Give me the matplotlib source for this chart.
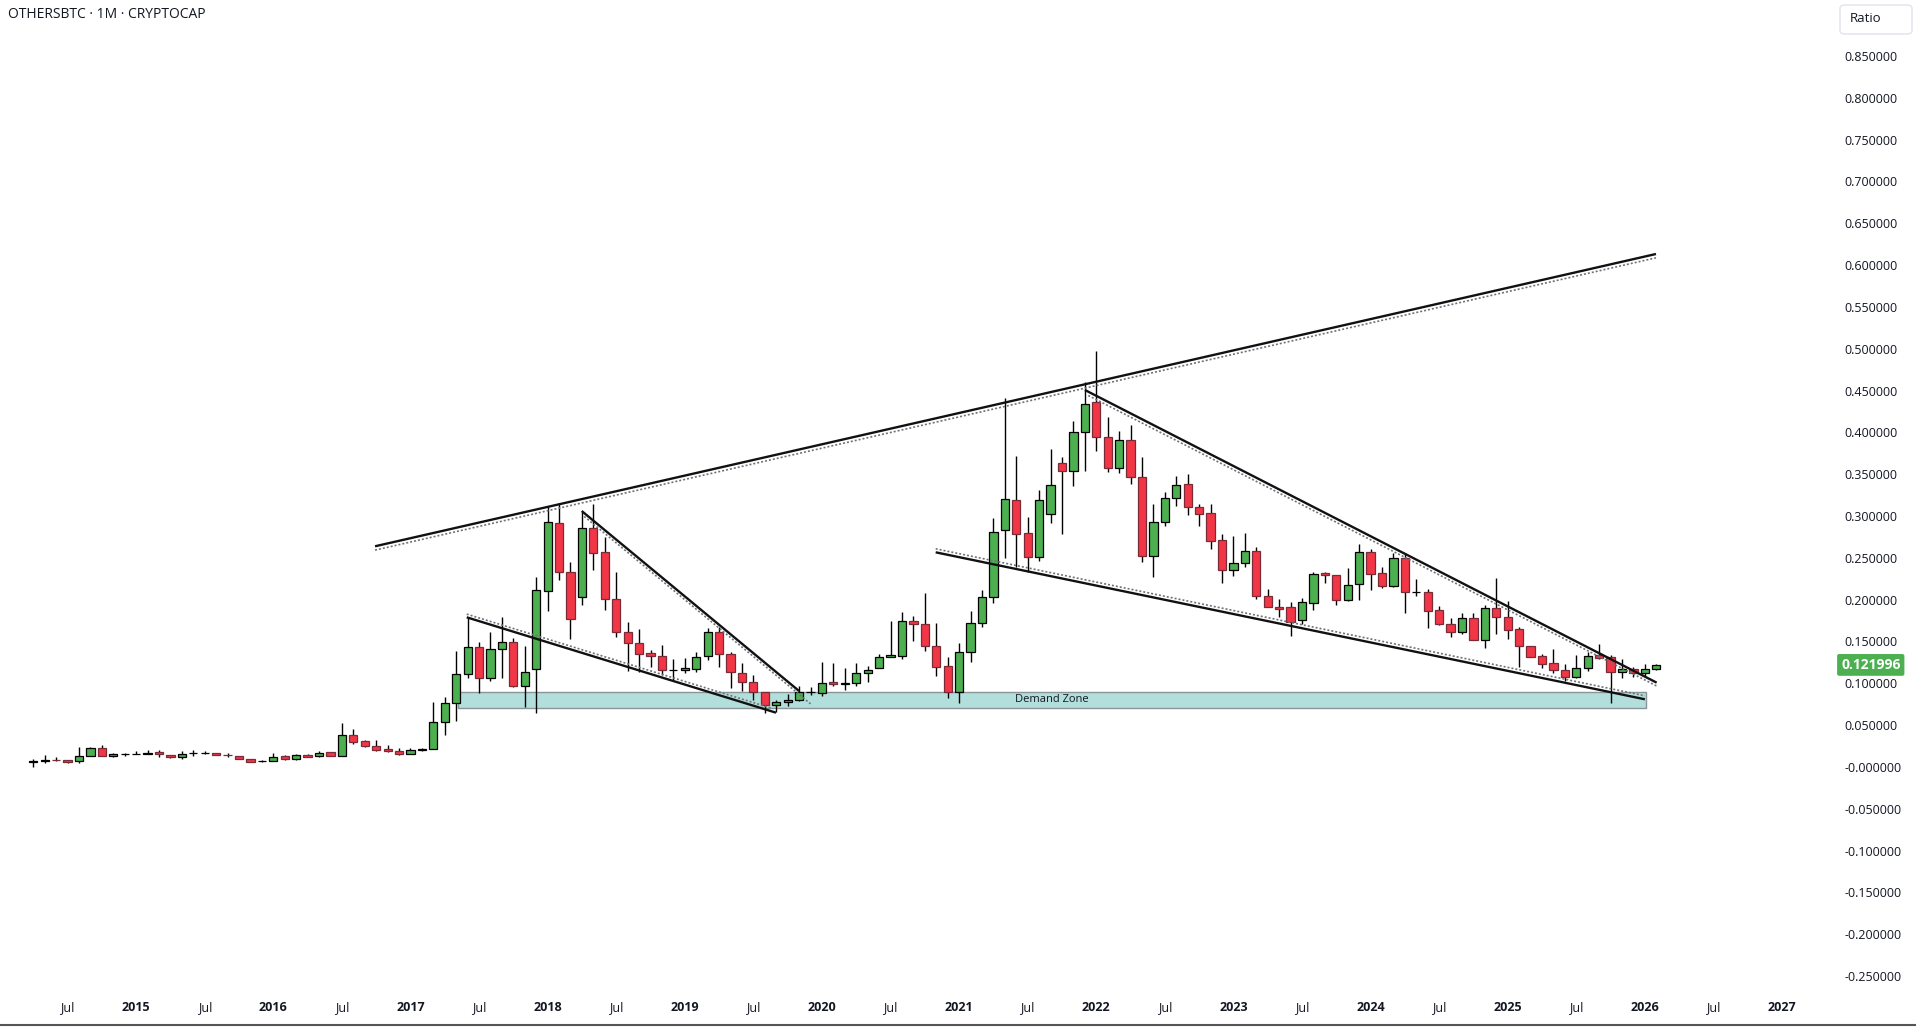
##############################################
## OTHERSBTC monthly candles, TradingView style
##############################################

import numpy as np
import matplotlib
matplotlib.use('Agg')
from matplotlib import pyplot as plt
from matplotlib import patches, transforms

plt.rcParams['font.family'] = ['Open Sans', 'DejaVu Sans']

# first candle is April 2014, one candle per month
start_year = 2014
start_month = 4

opens = [0.0064, 0.0076, 0.0084, 0.0084, 0.0068, 0.0128, 0.0223, 0.0131, 0.0155, 0.0155,
         0.0159, 0.0175, 0.0139, 0.0115, 0.0163, 0.0167, 0.0167, 0.0143, 0.0127, 0.0092,
         0.0070, 0.0068, 0.0131, 0.0092, 0.0143, 0.0127, 0.0175, 0.0135, 0.0378, 0.0315,
         0.0251, 0.0219, 0.0195, 0.0159, 0.0203, 0.0211, 0.0534, 0.0761, 0.1108, 0.1438,
         0.1060, 0.1407, 0.1498, 0.0968, 0.1167, 0.2100, 0.2913, 0.2327, 0.2028, 0.2853,
         0.2566, 0.2004, 0.1610, 0.1478, 0.1359, 0.1323, 0.1159, 0.1159, 0.1167, 0.1323,
         0.1610, 0.1347, 0.1120, 0.1012, 0.0893, 0.0741, 0.0773, 0.0800, 0.0895, 0.0889,
         0.1012, 0.0988, 0.1004, 0.1120, 0.1179, 0.1311, 0.1330, 0.1741, 0.1705, 0.1450,
         0.1207, 0.0900, 0.1375, 0.1717, 0.2028, 0.2829, 0.3188, 0.2793, 0.2506, 0.3024,
         0.3630, 0.3534, 0.4000, 0.4367, 0.3941, 0.3574, 0.3905, 0.3466, 0.2526, 0.2932,
         0.3211, 0.3379, 0.3108, 0.3032, 0.2709, 0.2358, 0.2434, 0.2577, 0.2040, 0.1913,
         0.1908, 0.1756, 0.1964, 0.2315, 0.2295, 0.1996, 0.2184, 0.2566, 0.2315, 0.2168,
         0.2494, 0.2088, 0.2088, 0.1877, 0.1713, 0.1618, 0.1777, 0.1514, 0.1897, 0.1797,
         0.1646, 0.1443, 0.1327, 0.1244, 0.1164, 0.1077, 0.1188, 0.1335, 0.1311, 0.1136,
         0.1176, 0.1124, 0.1172]

highs = [0.0092, 0.0143, 0.0116, 0.0084, 0.0235, 0.0235, 0.0263, 0.0167, 0.0167, 0.0195,
         0.0203, 0.0203, 0.0147, 0.0191, 0.0199, 0.0195, 0.0167, 0.0163, 0.0127, 0.0092,
         0.0084, 0.0167, 0.0143, 0.0155, 0.0155, 0.0195, 0.0183, 0.0530, 0.0454, 0.0323,
         0.0323, 0.0259, 0.0223, 0.0223, 0.0223, 0.0777, 0.0840, 0.1390, 0.1797, 0.1498,
         0.1610, 0.1790, 0.1540, 0.1446, 0.2267, 0.3124, 0.3160, 0.2454, 0.3052, 0.3140,
         0.2745, 0.2327, 0.1729, 0.1650, 0.1400, 0.1460, 0.1287, 0.1300, 0.1380, 0.1660,
         0.1677, 0.1380, 0.1240, 0.1100, 0.0900, 0.0800, 0.0873, 0.0968, 0.0950, 0.1251,
         0.1240, 0.1180, 0.1240, 0.1210, 0.1350, 0.1745, 0.1857, 0.1800, 0.2076, 0.1717,
         0.1310, 0.1478, 0.1860, 0.2116, 0.2972, 0.4407, 0.3717, 0.2992, 0.3310, 0.3800,
         0.3701, 0.4136, 0.4598, 0.4973, 0.4188, 0.4021, 0.4088, 0.3710, 0.3144, 0.3290,
         0.3478, 0.3500, 0.3140, 0.3140, 0.2780, 0.2761, 0.2800, 0.2625, 0.2124, 0.2005,
         0.1977, 0.2015, 0.2335, 0.2335, 0.2295, 0.2375, 0.2665, 0.2602, 0.2395, 0.2554,
         0.2554, 0.2244, 0.2124, 0.1924, 0.1777, 0.1837, 0.1837, 0.1937, 0.2255, 0.1984,
         0.1670, 0.1443, 0.1350, 0.1406, 0.1227, 0.1335, 0.1375, 0.1469, 0.1335, 0.1287,
         0.1196, 0.1228, 0.1228]

lows = [0.0004, 0.0044, 0.0068, 0.0052, 0.0044, 0.0128, 0.0135, 0.0123, 0.0127, 0.0151,
        0.0155, 0.0123, 0.0107, 0.0099, 0.0135, 0.0151, 0.0139, 0.0123, 0.0092, 0.0056,
        0.0064, 0.0068, 0.0084, 0.0084, 0.0115, 0.0123, 0.0131, 0.0135, 0.0271, 0.0243,
        0.0195, 0.0179, 0.0147, 0.0155, 0.0191, 0.0211, 0.0379, 0.0546, 0.1068, 0.0880,
        0.1028, 0.1068, 0.0952, 0.0721, 0.0649, 0.1869, 0.2235, 0.1534, 0.1936, 0.2355,
        0.1877, 0.1558, 0.1151, 0.1132, 0.1199, 0.1100, 0.1040, 0.1120, 0.1140, 0.1275,
        0.1200, 0.0940, 0.0913, 0.0801, 0.0642, 0.0660, 0.0730, 0.0785, 0.0865, 0.0850,
        0.0970, 0.0925, 0.0964, 0.1010, 0.1179, 0.1311, 0.1291, 0.1510, 0.1387, 0.1090,
        0.0830, 0.0761, 0.1255, 0.1670, 0.1956, 0.2502, 0.2394, 0.2335, 0.2466, 0.2921,
        0.2781, 0.3363, 0.3543, 0.3777, 0.3530, 0.3510, 0.3383, 0.2455, 0.2273, 0.2885,
        0.3124, 0.3016, 0.2880, 0.2605, 0.2203, 0.2287, 0.2386, 0.2008, 0.1909, 0.1797,
        0.1570, 0.1709, 0.1876, 0.2203, 0.1936, 0.1984, 0.1996, 0.2116, 0.2136, 0.2156,
        0.1845, 0.2044, 0.1665, 0.1693, 0.1550, 0.1585, 0.1514, 0.1426, 0.1586, 0.1526,
        0.1199, 0.1311, 0.1180, 0.1125, 0.1029, 0.1065, 0.1148, 0.1295, 0.0761, 0.1069,
        0.1077, 0.1077, 0.1164]

closes = [0.0072, 0.0084, 0.0080, 0.0056, 0.0128, 0.0223, 0.0135, 0.0155, 0.0157, 0.0159,
          0.0167, 0.0155, 0.0115, 0.0159, 0.0167, 0.0169, 0.0139, 0.0141, 0.0092, 0.0056,
          0.0074, 0.0115, 0.0092, 0.0143, 0.0119, 0.0167, 0.0135, 0.0382, 0.0303, 0.0247,
          0.0207, 0.0187, 0.0159, 0.0203, 0.0215, 0.0534, 0.0761, 0.1108, 0.1438, 0.1060,
          0.1407, 0.1498, 0.0968, 0.1140, 0.2112, 0.2925, 0.2327, 0.1773, 0.2853, 0.2562,
          0.2004, 0.1610, 0.1478, 0.1347, 0.1323, 0.1159, 0.1165, 0.1179, 0.1311, 0.1610,
          0.1347, 0.1132, 0.1012, 0.0893, 0.0741, 0.0773, 0.0797, 0.0900, 0.0902, 0.1008,
          0.0996, 0.1004, 0.1120, 0.1159, 0.1311, 0.1339, 0.1741, 0.1705, 0.1450, 0.1199,
          0.0893, 0.1375, 0.1717, 0.2028, 0.2813, 0.3200, 0.2781, 0.2506, 0.3188, 0.3367,
          0.3534, 0.4000, 0.4335, 0.3941, 0.3570, 0.3905, 0.3462, 0.2526, 0.2925, 0.3211,
          0.3367, 0.3112, 0.3028, 0.2705, 0.2358, 0.2434, 0.2577, 0.2040, 0.1909, 0.1885,
          0.1737, 0.1975, 0.2307, 0.2291, 0.1996, 0.2172, 0.2566, 0.2303, 0.2168, 0.2494,
          0.2088, 0.2092, 0.1869, 0.1713, 0.1618, 0.1777, 0.1514, 0.1897, 0.1797, 0.1634,
          0.1443, 0.1319, 0.1236, 0.1164, 0.1077, 0.1188, 0.1327, 0.1303, 0.1136, 0.1176,
          0.1128, 0.1176, 0.121996]

# drawn trendlines (months from first candle, price)
trend_x = [[29.9, 141.97], [37.92, 64.98], [47.98, 67.0], [78.95, 141.0], [92.01, 142.03]]
trend_y = [[0.2638, 0.6132], [0.1789, 0.0649], [0.306, 0.0908], [0.2566, 0.0809], [0.4506, 0.1008]]
dot_x = [[29.9, 141.97], [37.92, 64.6], [48.2, 68.0], [78.95, 141.0], [92.3, 142.03]]
dot_y = [[0.2592, 0.6086], [0.1827, 0.0702], [0.2995, 0.0755], [0.2608, 0.0851], [0.4440, 0.0968]]

# demand zone
zone_x = [37.2, 141.07]
zone_y = [0.0702, 0.0900]
zone_label = 'Demand Zone'

last_price = 0.121996
price_ticks = np.round(np.arange(-0.25, 0.8501, 0.05), 2)

UP = '#4caf50'
DOWN = '#f23645'
TXT = '#131722'

W, H = 1916, 1027
fig = plt.figure(figsize=(W / 100, H / 100), dpi=100)
fig.patch.set_facecolor('white')
ax = fig.add_axes([0, 1 - 990 / H, 1836 / W, 990 / H])
ax.set_facecolor('white')

x = np.arange(len(opens))
o = np.array(opens)
c = np.array(closes)
up = c >= o

# wicks
ax.vlines(x, lows, highs, color='black', linewidth=1.0, zorder=3)
# bodies
ax.bar(x[up], (c - o)[up], bottom=o[up], width=0.72, color=UP,
       edgecolor='black', linewidth=0.9, zorder=4)
ax.bar(x[~up], (o - c)[~up], bottom=c[~up], width=0.72, color=DOWN,
       edgecolor='#7a2b38', linewidth=0.9, zorder=4)

# demand zone box
zone = patches.Rectangle((zone_x[0], zone_y[0]), zone_x[1] - zone_x[0], zone_y[1] - zone_y[0],
                         facecolor='#b2dfdb', edgecolor='#8a9596', linewidth=1.0, zorder=2)
ax.add_patch(zone)
ax.text((zone_x[0] + zone_x[1]) / 2, (zone_y[0] + zone_y[1]) / 2, zone_label,
        ha='center', va='center', fontsize=8, color=TXT, zorder=6)

# trendlines with their dotted shadows
for i in range(len(trend_x)):
    ax.plot(dot_x[i], dot_y[i], color='#6f727c', linewidth=1.2, linestyle=(0, (1.2, 1.2)), zorder=5)
    ax.plot(trend_x[i], trend_y[i], color='#111111', linewidth=1.7, zorder=5, solid_capstyle='butt')

xmin, xmax = -2.913, 157.72
ax.set_xlim(xmin, xmax)
ax.set_ylim(-0.2666, 0.9168)

# time axis: Jul and January (bold year) every six months
xt, xl = [], []
for k in range(0, int(xmax) - 2):
    m = (start_month - 1 + k) % 12
    yr = start_year + (start_month - 1 + k) // 12
    if m == 0:
        xt.append(k)
        xl.append(str(yr))
    elif m == 6:
        xt.append(k)
        xl.append('Jul')
ax.set_xticks(xt)
ax.set_xticklabels(xl)
for t in ax.get_xticklabels():
    t.set_fontsize(9)
    t.set_color(TXT)
    if t.get_text() != 'Jul':
        t.set_fontweight('bold')
ax.tick_params(axis='x', length=0, pad=8)

# price scale
ax.yaxis.tick_right()
ax.set_yticks(price_ticks)
ylabels = []
for v in price_ticks:
    s = '%.6f' % v
    if v == 0:
        s = '-0.000000'
    ylabels.append(s)
ax.set_yticklabels(ylabels, fontsize=9, color=TXT)
ax.tick_params(axis='y', length=0, pad=6)

for s in ax.spines.values():
    s.set_visible(False)

# last price tag
trans = transforms.blended_transform_factory(ax.transAxes, ax.transData)
ax.text(1.0 + 5 / 1836, last_price, '%.6f' % last_price, transform=trans, ha='left', va='center',
        fontsize=10, fontweight='bold', color='white', clip_on=False, zorder=10,
        bbox=dict(boxstyle='round,pad=0.28,rounding_size=0.15', fc=UP, ec='none'))

# title and Ratio button
fig.text(8 / W, 1 - 15 / H, 'OTHERSBTC \u00b7 1M \u00b7 CRYPTOCAP', ha='left', va='center',
         fontsize=10, color=TXT)
btn = patches.FancyBboxPatch((1840 / W, 1 - 34 / H), 72 / W, 29 / H,
                             boxstyle='round,pad=0,rounding_size=0.003',
                             transform=fig.transFigure, facecolor='white', edgecolor='#e0e3eb', linewidth=1)
fig.patches.append(btn)
fig.text(1866 / W, 1 - 19 / H, 'Ratio', ha='center', va='center', fontsize=9.5, color=TXT)

# bottom border
fig.add_artist(plt.Line2D([0, 1], [1 - 1025 / H, 1 - 1025 / H], transform=fig.transFigure,
                          color='#555555', linewidth=1.5))

fig.savefig('out.png', dpi=100, facecolor='white')
